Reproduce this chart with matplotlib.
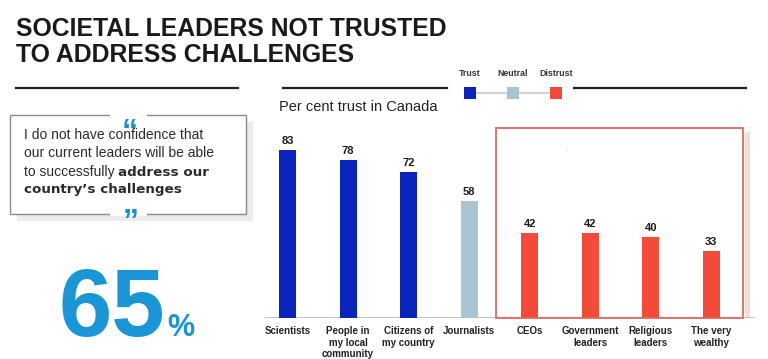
import matplotlib
matplotlib.use("Agg")
import matplotlib.pyplot as plt
from matplotlib.patches import Rectangle
from matplotlib.lines import Line2D
import matplotlib.transforms as mtransforms

# ---- data ----
categories = ["Scientists", "People in\nmy local\ncommunity", "Citizens of\nmy country",
              "Journalists", "CEOs", "Government\nleaders", "Religious\nleaders", "The very\nwealthy"]
values = [83, 78, 72, 58, 42, 42, 40, 33]
groups = ["Trust", "Trust", "Trust", "Neutral", "Distrust", "Distrust", "Distrust", "Distrust"]
legend_labels = ["Trust", "Neutral", "Distrust"]
group_colors = {"Trust": "#0a24be", "Neutral": "#aac5d2", "Distrust": "#f5493a"}
title_lines = ["SOCIETAL LEADERS NOT TRUSTED", "TO ADDRESS CHALLENGES"]
subtitle = "Per cent trust in Canada"
quote_regular = ["I do not have confidence that", "our current leaders will be able", "to successfully "]
quote_bold = ["address our", "country\u2019s challenges"]
headline_value = "65"

W, H = 768, 359
FONT = "Liberation Sans"
plt.rcParams["font.family"] = [FONT, "DejaVu Sans"]

fig = plt.figure(figsize=(W / 100, H / 100), dpi=100)
fig.patch.set_facecolor("white")

def fx(px):
    return px / W

def fy(py):
    return 1 - py / H

# ---- title ----
fig.text(fx(16), fy(36), title_lines[0], fontsize=17.8, fontweight="bold", color="#1a1a1a", va="baseline")
fig.text(fx(16), fy(62), title_lines[1], fontsize=17.8, fontweight="bold", color="#1a1a1a", va="baseline")

# horizontal rules
for x0, x1 in [(16, 238), (283, 447), (574, 746)]:
    fig.add_artist(Line2D([fx(x0), fx(x1)], [fy(88), fy(88)], color="#222222", lw=1.6,
                          transform=fig.transFigure))

# ---- legend ----
leg_x = [470, 513, 556]
fig.add_artist(Line2D([fx(leg_x[0]), fx(leg_x[-1])], [fy(93), fy(93)], color="#d2d2d2", lw=1.5,
                      transform=fig.transFigure, zorder=1))
for lab, cx in zip(legend_labels, leg_x):
    fig.add_artist(Rectangle((fx(cx - 6), fy(99)), 12 / W, 12 / H, transform=fig.transFigure,
                             facecolor=group_colors[lab], edgecolor="none", zorder=2))
    fig.text(fx(cx), fy(73), lab, fontsize=6.3, fontweight="bold", color="#333333",
             ha="center", va="center")

# subtitle
fig.text(fx(279), fy(107), subtitle, fontsize=10.5, color="#222222", va="center")

# ---- quote box ----
bx0, bx1, by0, by1 = 10, 246, 115, 214
fig.add_artist(Rectangle((fx(bx0 + 7), fy(by1 + 7)), (bx1 - bx0) / W, (by1 - by0) / H,
                         transform=fig.transFigure, facecolor="#ececec", edgecolor="none", zorder=0))
fig.add_artist(Rectangle((fx(bx0), fy(by1)), (bx1 - bx0) / W, (by1 - by0) / H,
                         transform=fig.transFigure, facecolor="white", edgecolor="#8a8a8a",
                         lw=1.0, zorder=1))
# gaps for quote marks
for yy in (by0, by1):
    fig.add_artist(Rectangle((fx(110), fy(yy + 2)), 37 / W, 4 / H, transform=fig.transFigure,
                             facecolor="white", edgecolor="none", zorder=2))
fig.text(fx(130), fy(141), "\u201c", fontsize=23, fontweight="bold", color="#1b8fd2",
         ha="center", va="baseline", zorder=3)
fig.text(fx(131), fy(231), "\u201d", fontsize=23, fontweight="bold", color="#1b8fd2",
         ha="center", va="baseline", zorder=3)

qy = [135, 153, 172, 190]
qcol = "#2b2b2b"
last = None
for i, line in enumerate(quote_regular):
    last = fig.text(fx(24), fy(qy[i]), line, fontsize=10, color=qcol, va="center", zorder=3)
fig.add_artist(plt.Annotation(quote_bold[0], xy=(1, 0.5), xycoords=last, va="center", ha="left",
                              fontsize=9.7, fontweight="bold", color=qcol, zorder=3,
                              family=["DejaVu Sans"]))
fig.text(fx(24), fy(qy[3]), quote_bold[1], fontsize=9.7, fontweight="bold", color=qcol,
         va="center", zorder=3, family=["DejaVu Sans"])

# ---- 65% ----
fig.text(fx(59), fy(336), headline_value, fontsize=69, fontweight="bold", color="#1a96d6",
         va="baseline")
fig.text(fx(167), fy(336), "%", fontsize=22, fontweight="bold", color="#1a96d6", va="baseline")

# ---- bar chart ----
ax_left, ax_right, ax_top, ax_base = 265, 755, 128, 318
ax = fig.add_axes([fx(ax_left), fy(ax_base), (ax_right - ax_left) / W, (ax_base - ax_top) / H])
ax.set_facecolor("none")
pos = list(range(len(categories)))
colors = [group_colors[g] for g in groups]
bars = ax.bar(pos, values, width=0.28, color=colors, zorder=3)
ax.set_xlim(-0.371, 7.72)
ax.set_ylim(0, 94)
for b, v in zip(bars, values):
    ax.annotate(str(v), (b.get_x() + b.get_width() / 2, v), xytext=(0, 3), textcoords="offset points",
                ha="center", va="bottom", fontsize=8, fontweight="bold", color="#1a1a1a")
ax.set_xticks(pos)
ax.set_xticklabels(categories, fontsize=7, fontweight="bold", color="#222222", linespacing=1.15)
ax.tick_params(axis="x", length=0, pad=6)
ax.set_yticks([])
for s in ax.spines.values():
    s.set_visible(False)
ax.axhline(0, color="#c4c4c4", lw=1.5, zorder=2)

blend = mtransforms.blended_transform_factory(ax.transData, ax.transAxes)
ax.add_patch(Rectangle((7.553, 0), 0.083, 0.979, transform=blend, facecolor="#f8dcd8",
                       edgecolor="none", zorder=0, clip_on=False))
ax.add_patch(Rectangle((3.442, 0), 4.078, 1.0, transform=blend, fill=False, edgecolor="#e2695c",
                       lw=1.3, zorder=4, clip_on=False))
ax.text(4.6, 0.88, ":", transform=blend, fontsize=6, color="#bbbbbb", ha="center", va="center")

fig.savefig("out.png", dpi=100, facecolor="white")
